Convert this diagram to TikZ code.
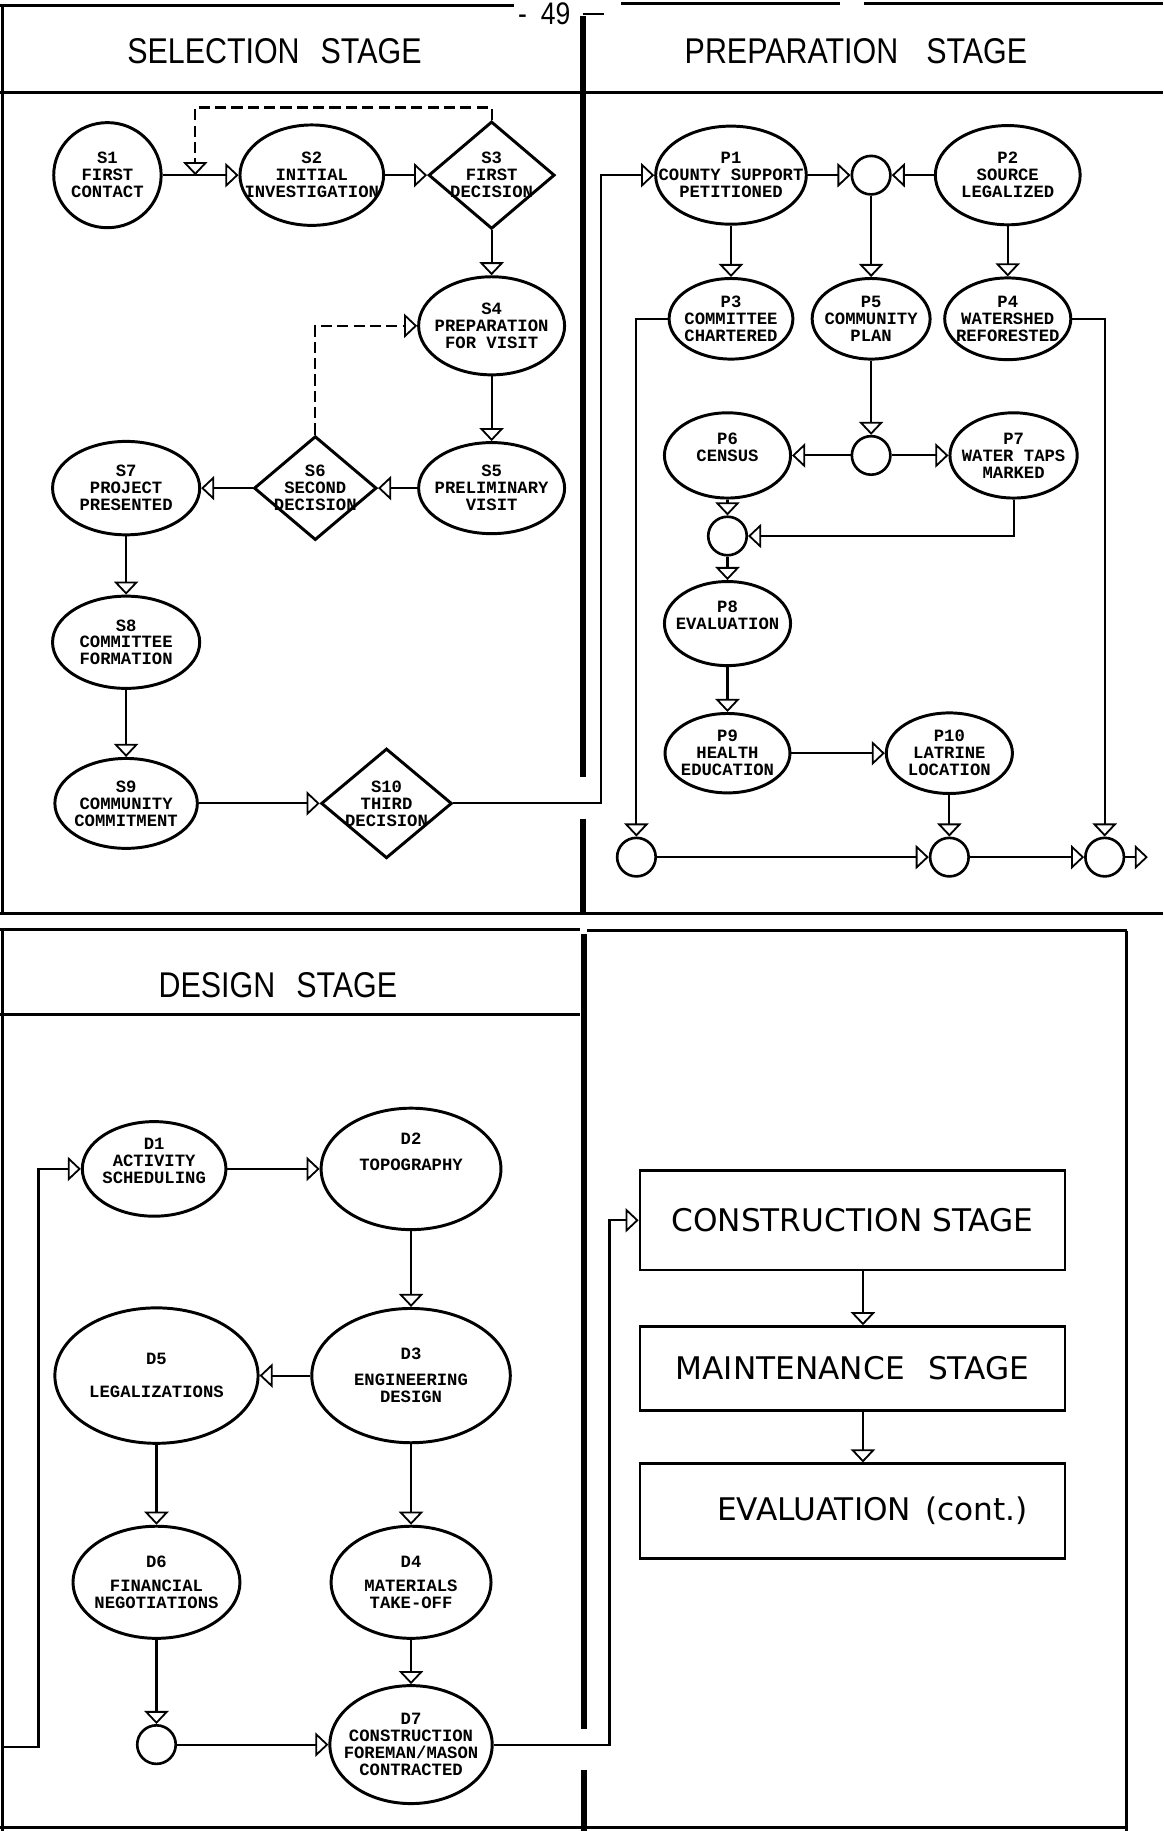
\documentclass[tikz,border=0pt]{standalone}
\usepackage{fontspec}
\usetikzlibrary{arrows.meta,shapes.geometric,calc}
\newfontfamily\dotfont{Liberation Mono}
\newfontfamily\headfont{Liberation Sans}[FakeStretch=0.85]
\newfontfamily\boxfont{DejaVu Sans}
\begin{document}
\begin{tikzpicture}[>={Triangle[open,length=2.8mm,width=5.2mm,line width=1.1pt]},x=0.25mm,y=-0.25mm,
	act/.style={draw,ellipse,line width=1.8pt,inner sep=0pt},
	dec/.style={draw,diamond,line width=1.8pt,inner sep=0pt},
	jn/.style={draw,circle,line width=1.6pt,minimum size=8.25mm,inner sep=0pt},
	sz/.style 2 args={minimum width=#1mm,minimum height=#2mm},
	txt/.style={font=\dotfont\bfseries\fontsize{10.5}{10.3}\selectfont,align=center,inner sep=0pt},
	lbl/.style={label={[txt]center:{#1}}},
	ln/.style={line width=1.3pt},
	fb/.style={line width=1.3pt,dash pattern=on 2.4mm off 1.1mm},
	frame/.style={line width=1.8pt},
	bar/.style={line width=3.6pt},
	head/.style={font=\headfont\fontsize{21.8}{24}\selectfont,inner sep=0pt},
	stagebox/.style={draw,line width=1.6pt,minimum width=91mm,font=\boxfont\fontsize{19}{22}\selectfont,inner sep=0pt}]
			\fill[white] (0,0) rectangle (996,1568);
			\useasboundingbox (0,0) rectangle (996,1568);
			\draw[frame] (0,5) -- (440,5) (532,3) -- (719,3) (740,3) -- (996,3);
			\node[font=\headfont\fontsize{19}{19}\selectfont,inner sep=0pt] (pg) at (466,12) {-\hspace{3mm}49};
			\draw[frame] (2,5) -- (2,782) (0,79) -- (996,79) (0,782) -- (996,782) (499,12) -- (517,12);
			\draw[bar] (499,14) -- (499,665) (499,701) -- (499,782);
			\draw[frame] (0,796) -- (497,796) (503,797) -- (965,797) (0,869) -- (497,869);
			\draw[frame] (2,796) -- (2,1568) (965,797) -- (965,1568) (0,1565) -- (965,1565);
			\draw[bar] (500,800) -- (500,1481) (500,1516) -- (500,1568);
			\node[head] (ts) at (235,44) {SELECTION\hspace{4.5mm}STAGE};
			\node[head] (tp) at (733,44) {PREPARATION\hspace{6mm}STAGE};
			\node[head] (td) at (238,844) {DESIGN\hspace{4.5mm}STAGE};
			\node[act,sz={23}{22.5},lbl={S1\\FIRST\\CONTACT}] (S1) at (92,150) {};
			\node[act,sz={30.75}{21.5},lbl={S2\\INITIAL\\INVESTIGATION}] (S2) at (267,150) {};
			\node[dec,sz={27}{23},lbl={S3\\FIRST\\DECISION}] (S3) at (421,150) {};
			\node[act,sz={31.25}{21},lbl={S4\\PREPARATION\\FOR VISIT}] (S4) at (421,279) {};
			\node[act,sz={31.25}{19.5},lbl={S5\\PRELIMINARY\\VISIT}] (S5) at (421,418) {};
			\node[dec,sz={26.25}{22.25},lbl={S6\\SECOND\\DECISION}] (S6) at (270,418) {};
			\node[act,sz={31.5}{20},lbl={S7\\PROJECT\\PRESENTED}] (S7) at (108,418) {};
			\node[act,sz={31.5}{19.75},lbl={S8\\COMMITTEE\\FORMATION}] (S8) at (108,550) {};
			\node[act,sz={30.5}{19.25},lbl={S9\\COMMUNITY\\COMMITMENT}] (S9) at (108,688) {};
			\node[dec,sz={28}{23.5},lbl={S10\\THIRD\\DECISION}] (S10) at (331,688) {};
			\coordinate (fbtop) at (421,92);
			\coordinate (fbtip) at ($(S1.east)!0.43!(S2.west)$);
			\coordinate (sp) at (515,688);
			\draw[ln,->] (S1) -- (S2);
			\draw[ln,->] (S2) -- (S3);
			\draw[fb,->] (S3.north) -- (fbtop) -| (fbtip);
			\draw[ln,->] (S3) -- (S4);
			\draw[ln,->] (S4) -- (S5);
			\draw[ln,->] (S5) -- (S6);
			\draw[fb,->] (S6.north) |- (S4.west);
			\draw[ln,->] (S6) -- (S7);
			\draw[ln,->] (S7) -- (S8);
			\draw[ln,->] (S8) -- (S9);
			\draw[ln,->] (S9) -- (S10);
			\node[act,sz={32.25}{21},lbl={P1\\COUNTY SUPPORT\\PETITIONED}] (P1) at (626,150) {};
			\node[jn] (J1) at (746,150) {};
			\node[act,sz={31}{21.25},lbl={P2\\SOURCE\\LEGALIZED}] (P2) at (863,150) {};
			\node[act,sz={26.5}{17.25},lbl={P3\\COMMITTEE\\CHARTERED}] (P3) at (626,273) {};
			\node[act,sz={25.25}{17.25},lbl={P5\\COMMUNITY\\PLAN}] (P5) at (746,273) {};
			\node[act,sz={27}{17.5},lbl={P4\\WATERSHED\\REFORESTED}] (P4) at (863,273) {};
			\node[jn] (J2) at (746,390) {};
			\node[act,sz={27}{18.25},lbl={P6\\CENSUS\\~}] (P6) at (623,390) {};
			\node[act,sz={27.25}{18.25},lbl={P7\\WATER TAPS\\MARKED}] (P7) at (868,390) {};
			\node[jn] (J3) at (623,459) {};
			\node[act,sz={27}{18},lbl={P8\\EVALUATION\\~}] (P8) at (623,534) {};
			\node[act,sz={26.75}{17},lbl={P9\\HEALTH\\EDUCATION}] (P9) at (623,645) {};
			\node[act,sz={27}{17.25},lbl={P10\\LATRINE\\LOCATION}] (P10) at (813,645) {};
			\node[jn] (J4) at (545,734) {};
			\node[jn] (J5) at (813,734) {};
			\node[jn] (J6) at (946,734) {};
			\coordinate (pout) at (983,734);
			\draw[ln,->] (S10.east) -- (sp) |- (P1.west);
			\draw[ln,->] (P1) -- (J1);
			\draw[ln,->] (P2) -- (J1);
			\draw[ln,->] (P1) -- (P3);
			\draw[ln,->] (J1) -- (P5);
			\draw[ln,->] (P2) -- (P4);
			\draw[ln,->] (P5) -- (J2);
			\draw[ln,->] (J2) -- (P6);
			\draw[ln,->] (J2) -- (P7);
			\draw[ln,->] (P6) -- (J3);
			\draw[ln,->] (P7.south) |- (J3.east);
			\draw[ln,->] (J3) -- (P8);
			\draw[ln,->] (P8) -- (P9);
			\draw[ln,->] (P9) -- (P10);
			\draw[ln,->] (P10) -- (J5);
			\draw[ln,->] (P3.west) -| (J4.north);
			\draw[ln,->] (P4.east) -| (J6.north);
			\draw[ln,->] (J4) -- (J5);
			\draw[ln,->] (J5) -- (J6);
			\draw[ln,->] (J6) -- (pout);
			\node[act,sz={30.75}{20.25},lbl={D1\\ACTIVITY\\SCHEDULING\\~}] (D1) at (132,1001) {};
			\node[act,sz={38.5}{26},lbl={D2\\[1.8mm]TOPOGRAPHY\\[3.8mm]~}] (D2) at (352,1001) {};
			\node[act,sz={42.5}{28.75},lbl={D3\\[2mm]ENGINEERING\\DESIGN}] (D3) at (352,1178) {};
			\node[act,sz={43.5}{29},lbl={D5\\[3.5mm]LEGALIZATIONS}] (D5) at (134,1178) {};
			\node[act,sz={35.75}{24},lbl={D6\\[1.5mm]FINANCIAL\\NEGOTIATIONS}] (D6) at (134,1355) {};
			\node[act,sz={34.25}{24},lbl={D4\\[1.5mm]MATERIALS\\TAKE-OFF}] (D4) at (352,1355) {};
			\node[jn] (J7) at (134,1494) {};
			\node[act,sz={34.75}{25.25},lbl={D7\\CONSTRUCTION\\FOREMAN/MASON\\CONTRACTED}] (D7) at (352,1494) {};
			\node[stagebox,minimum height=21.25mm] (CS) at (730,1045) {CONSTRUCTION STAGE};
			\node[stagebox,minimum height=18mm] (MS) at (730,1172) {MAINTENANCE\hspace{5mm}STAGE};
			\node[stagebox,minimum height=20.25mm] (EV) at (730,1294) {\hspace{8.5mm}EVALUATION\hspace{3mm}(cont.)};
			\coordinate (din) at (2,1496);
			\coordinate (dbend) at (33,1001);
			\coordinate (cbend) at (522,1494);
			\draw[ln,->] (din) -| (dbend) -- (D1.west);
			\draw[ln,->] (D1) -- (D2);
			\draw[ln,->] (D2) -- (D3);
			\draw[ln,->] (D3) -- (D5);
			\draw[ln,->] (D5) -- (D6);
			\draw[ln,->] (D3) -- (D4);
			\draw[ln,->] (D6) -- (J7);
			\draw[ln,->] (D4) -- (D7);
			\draw[ln,->] (J7) -- (D7);
			\draw[ln,->] (D7) -- (cbend) |- (CS.west);
			\draw[ln,->] ($(CS.south)+(9,0)$) -- ($(MS.north)+(9,0)$);
			\draw[ln,->] ($(MS.south)+(9,0)$) -- ($(EV.north)+(9,0)$);
\end{tikzpicture}
\end{document}
